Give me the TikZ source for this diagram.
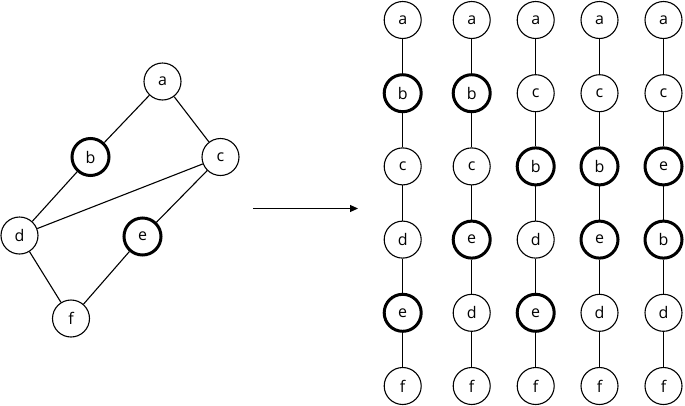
\documentclass[tikz,border=0pt]{standalone}
\usepackage{fontspec}
\setmainfont{Open Sans}
\usetikzlibrary{arrows.meta}
\begin{document}
\begin{tikzpicture}[x=1pt,y=-1pt,
  vtx/.style={circle,draw,line width=1.1pt,minimum size=37pt,inner sep=0pt,font=\fontsize{16}{16}\selectfont,fill=white},
  hl/.style={line width=3pt},
  edge/.style={line width=1.1pt}]
\useasboundingbox (0,0) rectangle (685,405);
% left graph
\node[vtx] (a) at (162.5,81.5) {a};
\node[vtx,hl] (b) at (90.5,157) {b};
\node[vtx] (c) at (220.5,157) {c};
\node[vtx] (d) at (19.5,235.5) {d};
\node[vtx,hl] (e) at (142.5,236.5) {e};
\node[vtx] (f) at (71,318.5) {f};
\draw[edge] (a) -- (b);
\draw[edge] (a) -- (c);
\draw[edge] (b) -- (d);
\draw[edge] (c) -- (d);
\draw[edge] (c) -- (e);
\draw[edge] (d) -- (f);
\draw[edge] (e) -- (f);
% arrow
\coordinate (arS) at (253,208.5);
\coordinate (arE) at (358,208.5);
\draw[edge,-{Triangle[length=8pt,width=7pt]}] (arS) -- (arE);
% right chains
\foreach \col/\x/\labs/\hls in {
  1/402.7/{a,b,c,d,e,f}/{2,5},
  2/471.7/{a,b,c,e,d,f}/{2,4},
  3/535.7/{a,c,b,d,e,f}/{3,5},
  4/599.5/{a,c,b,e,d,f}/{3,4},
  5/663.5/{a,c,e,b,d,f}/{3,4}}{
  \foreach \l [count=\i] in \labs {
    \pgfmathsetmacro{\yy}{20+73.2*(\i-1)}
    \def\ishl{0}
    \foreach \h in \hls {\ifnum\h=\i\xdef\ishl{1}\fi}
    \ifnum\ishl=1
      \node[vtx,hl] (r\col-\i) at (\x,\yy) {\l};
    \else
      \node[vtx] (r\col-\i) at (\x,\yy) {\l};
    \fi
  }
  \foreach \i [evaluate=\i as \j using int(\i+1)] in {1,...,5}
    \draw[edge] (r\col-\i) -- (r\col-\j);
}
\end{tikzpicture}
\end{document}
